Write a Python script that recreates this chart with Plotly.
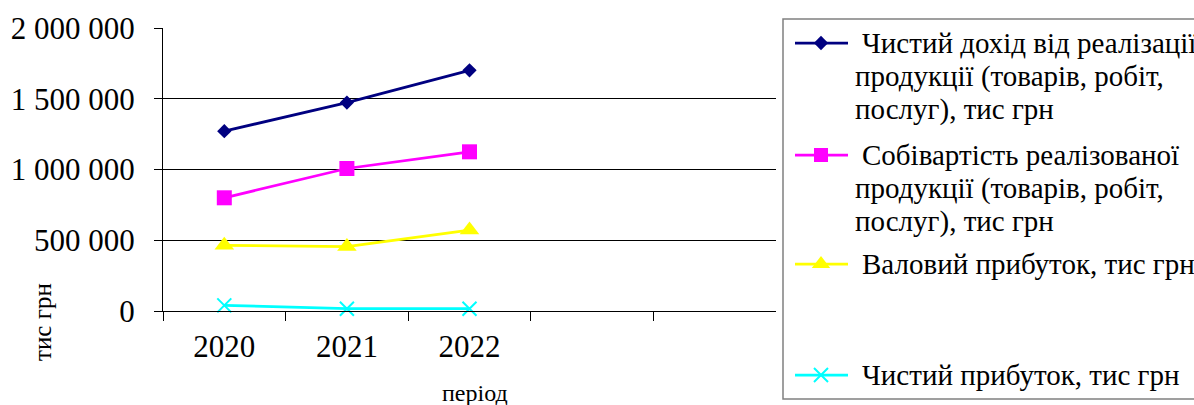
import plotly.graph_objects as go

# Canvas size in px
W, H = 1194, 405

# ---- data -------------------------------------------------------------
years = ["2020", "2021", "2022"]
categories = years + [" ", "  "]          # two empty periods keep the axis wide
revenue = [1271000, 1473000, 1701000]     # Чистий дохід від реалізації
cost = [800000, 1007000, 1125000]         # Собівартість реалізованої продукції
gross = [464000, 455000, 572000]          # Валовий прибуток
net = [40000, 16000, 16000]               # Чистий прибуток

y_tick_vals = [0, 500000, 1000000, 1500000, 2000000]
y_tick_text = ["0", "500 000", "1 000 000", "1 500 000", "2 000 000"]

legend_lines = [
    ["Чистий дохід від реалізації", "продукції (товарів, робіт,", "послуг), тис грн"],
    ["Собівартість реалізованої", "продукції (товарів, робіт,", "послуг), тис грн"],
    ["Валовий прибуток, тис грн"],
    ["Чистий прибуток, тис грн"],
]

# ---- styles -----------------------------------------------------------
FONT = "Liberation Serif, Times New Roman, serif"
styles = [
    dict(color="#000080", symbol="diamond", size=11, legend_size=11),
    dict(color="#FF00FF", symbol="square", size=15, legend_size=14),
    dict(color="#FFFF00", symbol="triangle-up", size=17, legend_size=16),
    dict(color="#00FFFF", symbol="x-thin", size=14, legend_size=14),
]
series = [revenue, cost, gross, net]

# plot area in px
PX0, PX1 = 163, 776
PY_TOP, PY_BOT = 28, 311

fig = go.Figure()

for vals, st in zip(series, styles):
    marker = dict(color=st["color"], symbol=st["symbol"], size=st["size"])
    if st["symbol"] == "x-thin":
        marker["line"] = dict(color=st["color"], width=2)
    fig.add_trace(go.Scatter(
        x=years, y=vals, mode="lines+markers",
        line=dict(color=st["color"], width=2.75),
        marker=marker, xaxis="x", yaxis="y", showlegend=False,
        cliponaxis=False,
    ))

# ---- hand-built legend on a pixel-space overlay axis -----------------
LEG_SYM_X0, LEG_SYM_X1, LEG_SYM_XM = 795, 848, 821
legend_rows = [[43, 76, 109], [155, 188, 221], [264], [375]]
for st, rows in zip(styles, legend_rows):
    y0 = rows[0]
    fig.add_trace(go.Scatter(
        x=[LEG_SYM_X0, LEG_SYM_X1], y=[y0, y0], mode="lines",
        line=dict(color=st["color"], width=2.75),
        xaxis="x2", yaxis="y2", showlegend=False, hoverinfo="skip",
    ))
    marker = dict(color=st["color"], symbol=st["symbol"], size=st["legend_size"])
    if st["symbol"] == "x-thin":
        marker["line"] = dict(color=st["color"], width=2)
    fig.add_trace(go.Scatter(
        x=[LEG_SYM_XM], y=[y0], mode="markers", marker=marker,
        xaxis="x2", yaxis="y2", showlegend=False, hoverinfo="skip",
    ))

annotations = []
for lines, rows in zip(legend_lines, legend_rows):
    for i, (txt, yy) in enumerate(zip(lines, rows)):
        annotations.append(dict(
            text=txt, x=860 if i == 0 else 853, y=yy, xref="x2", yref="y2",
            xanchor="left", yanchor="middle", showarrow=False,
            font=dict(family=FONT, size=29, color="black"),
        ))

# axis titles
annotations.append(dict(
    text="тис грн", x=42, y=322, xref="x2", yref="y2", textangle=-90,
    xanchor="center", yanchor="middle", showarrow=False,
    font=dict(family=FONT, size=25, color="black"),
))
annotations.append(dict(
    text="період", x=475, y=393, xref="x2", yref="y2",
    xanchor="center", yanchor="middle", showarrow=False,
    font=dict(family=FONT, size=24, color="black"),
))

shapes = [dict(
    type="rect", xref="x2", yref="y2", x0=783, x1=1210, y0=19, y1=399,
    line=dict(color="#808080", width=1.5), fillcolor="rgba(0,0,0,0)", layer="below",
)]

fig.update_layout(
    width=W, height=H,
    margin=dict(l=0, r=0, t=0, b=0, autoexpand=False),
    paper_bgcolor="white", plot_bgcolor="rgba(0,0,0,0)",
    font=dict(family=FONT, color="black"),
    showlegend=False,
    xaxis=dict(
        domain=[PX0 / W, PX1 / W], anchor="y", automargin=False,
        type="category", categoryorder="array", categoryarray=categories,
        range=[-0.5, 4.5], tickson="boundaries",
        ticks="outside", ticklen=9, tickcolor="black", tickwidth=1,
        showline=True, linecolor="black", linewidth=1,
        showgrid=False, zeroline=False,
        tickfont=dict(family=FONT, size=31, color="black"),
        ticklabelstandoff=8,
    ),
    yaxis=dict(
        domain=[(H - PY_BOT) / H, (H - PY_TOP) / H], anchor="x", automargin=False,
        range=[0, 2000000], tickmode="array",
        tickvals=y_tick_vals, ticktext=y_tick_text,
        ticks="outside", ticklen=8, tickcolor="black", tickwidth=1,
        showline=True, linecolor="black", linewidth=1,
        showgrid=True, gridcolor="black", gridwidth=1, zeroline=False,
        tickfont=dict(family=FONT, size=31, color="black"),
        ticklabelstandoff=13,
    ),
    xaxis2=dict(domain=[0, 1], range=[0, W], anchor="y2", visible=False,
                fixedrange=True, automargin=False),
    yaxis2=dict(domain=[0, 1], range=[H, 0], anchor="x2", visible=False,
                fixedrange=True, automargin=False),
    annotations=annotations,
    shapes=shapes,
)

fig.write_html("out.html")
